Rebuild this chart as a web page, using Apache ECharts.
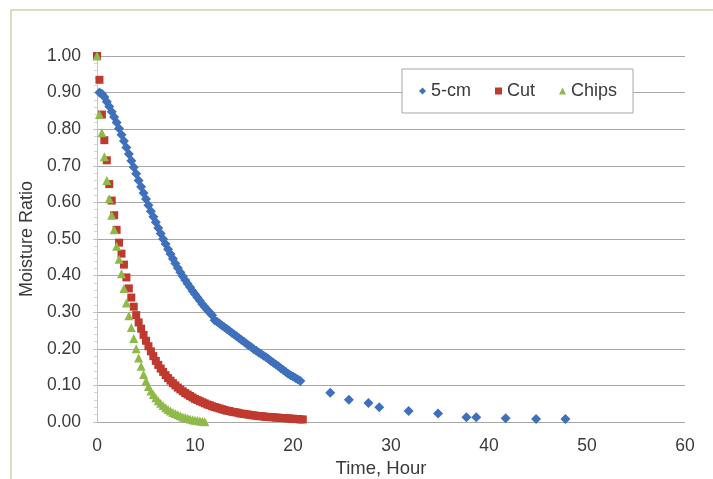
<!DOCTYPE html>
<html>
<head>
<meta charset="utf-8">
<script src="https://cdn.jsdelivr.net/npm/echarts@6/dist/echarts.min.js"></script>
<style>
html,body{margin:0;padding:0;background:#fff;}
#chart{width:713px;height:479px;}
</style>
</head>
<body>
<div id="chart"></div>
<script>
// Tick labels
var xTicks = [0, 10, 20, 30, 40, 50, 60];
var yTicks = [0.00, 0.10, 0.20, 0.30, 0.40, 0.50, 0.60, 0.70, 0.80, 0.90, 1.00];
var seriesNames = ['5-cm', 'Cut', 'Chips'];

// 5-cm: time (hour) and moisture ratio
var time5cm = [0.25,0.5,0.75,1,1.25,1.5,1.75,2,2.25,2.5,2.75,3,3.25,3.5,3.75,4,4.25,4.5,4.75,5,
  5.25,5.5,5.75,6,6.25,6.5,6.75,7,7.25,7.5,7.75,8,8.25,8.5,8.75,9,9.25,9.5,9.75,10,
  10.25,10.5,10.75,11,11.25,11.5,11.75,12,12.25,12.5,12.75,13,13.25,13.5,13.75,14,14.25,14.5,14.75,15,
  15.25,15.5,15.75,16,16.25,16.5,16.75,17,17.25,17.5,17.75,18,18.25,18.5,18.75,19,19.25,19.5,19.75,20,
  20.25,20.5,20.75,
  23.8,25.7,27.7,28.8,31.8,34.8,37.7,38.7,41.7,44.8,47.8];
var ratio5cm = [0.900,0.897,0.888,0.875,0.862,0.848,0.833,0.818,0.802,0.785,0.768,0.750,0.732,0.714,0.696,0.678,0.660,0.643,0.626,0.609,
  0.592,0.576,0.561,0.546,0.530,0.515,0.500,0.486,0.472,0.459,0.446,0.433,0.421,0.409,0.398,0.388,0.378,0.368,0.358,0.349,
  0.340,0.331,0.322,0.314,0.306,0.299,0.292,0.278,0.274,0.269,0.264,0.259,0.254,0.249,0.244,0.239,0.234,0.229,0.224,0.219,
  0.214,0.209,0.204,0.199,0.195,0.190,0.186,0.181,0.177,0.172,0.167,0.162,0.157,0.152,0.147,0.142,0.137,0.132,0.128,0.124,
  0.120,0.116,0.112,
  0.080,0.061,0.052,0.040,0.030,0.023,0.013,0.013,0.010,0.008,0.008];

// Cut
var timeCut = [0,0.25,0.5,0.75,1,1.25,1.5,1.75,2,2.25,2.5,2.75,3,3.25,3.5,3.75,4,4.25,4.5,4.75,5,
  5.25,5.5,5.75,6,6.25,6.5,6.75,7,7.25,7.5,7.75,8,8.25,8.5,8.75,9,9.25,9.5,9.75,10,
  10.25,10.5,10.75,11,11.25,11.5,11.75,12,12.25,12.5,12.75,13,13.25,13.5,13.75,14,14.25,14.5,14.75,15,
  15.25,15.5,15.75,16,16.25,16.5,16.75,17,17.25,17.5,17.75,18,18.25,18.5,18.75,19,19.25,19.5,19.75,20,
  20.25,20.5,20.75,21];
var ratioCut = [1.000,0.935,0.840,0.770,0.715,0.650,0.605,0.565,0.525,0.490,0.460,0.430,0.395,0.365,0.340,0.315,0.292,0.272,0.255,0.238,0.222,
  0.207,0.193,0.180,0.167,0.156,0.146,0.137,0.128,0.120,0.113,0.106,0.100,0.094,0.089,0.084,0.079,0.075,0.071,0.067,0.063,
  0.060,0.057,0.054,0.051,0.048,0.046,0.043,0.041,0.039,0.037,0.035,0.033,0.031,0.030,0.028,0.027,0.026,0.024,0.023,0.022,
  0.021,0.020,0.019,0.018,0.017,0.016,0.016,0.015,0.014,0.014,0.013,0.013,0.012,0.012,0.011,0.011,0.010,0.010,0.009,0.009,
  0.008,0.008,0.007,0.007];

// Chips
var timeChips = [0,0.25,0.5,0.75,1,1.25,1.5,1.75,2,2.25,2.5,2.75,3,3.25,3.5,3.75,4,4.25,4.5,4.75,5,
  5.25,5.5,5.75,6,6.25,6.5,6.75,7,7.25,7.5,7.75,8,8.25,8.5,8.75,9,9.25,9.5,9.75,10,
  10.25,10.5,10.75,11];
var ratioChips = [1.000,0.840,0.790,0.725,0.660,0.610,0.565,0.525,0.480,0.445,0.405,0.365,0.325,0.290,0.258,0.228,0.200,0.175,0.152,0.130,0.112,
  0.097,0.085,0.075,0.066,0.058,0.051,0.045,0.039,0.034,0.030,0.026,0.023,0.020,0.017,0.014,0.012,0.010,0.008,0.006,0.005,
  0.004,0.003,0.002,0.001];

function pairs(t, v) {
  var out = [];
  for (var i = 0; i < t.length; i++) out.push([t[i], v[i]]);
  return out;
}

var colors = ['#3f70bb', '#c0392f', '#8fba4a'];
var txt = '#3a3a3a';
var font = 'Liberation Sans, Arial, sans-serif';

var chart = echarts.init(document.getElementById('chart'), null, {renderer: 'canvas'});
chart.setOption({
  backgroundColor: '#fff',
  animation: false,
  textStyle: {fontFamily: font},
  graphic: [{
    type: 'rect',
    shape: {x: 11, y: 10, width: 720, height: 480},
    style: {fill: 'none', stroke: '#cdd3a8', lineWidth: 1.5},
    z: -1
  }],
  grid: {left: 97, right: 28, top: 56, bottom: 57, outerBoundsMode: 'none', containLabel: false},
  legend: {
    data: [
      {name: seriesNames[0], icon: 'diamond'},
      {name: seriesNames[1], icon: 'rect'},
      {name: seriesNames[2], icon: 'triangle'}
    ],
    left: 402, top: 69,
    padding: [13, 16, 13, 17],
    itemGap: 24,
    itemWidth: 7, itemHeight: 7,
    backgroundColor: '#fff',
    borderColor: '#a6a6a6', borderWidth: 1,
    textStyle: {color: txt, fontSize: 18, fontFamily: font}
  },
  xAxis: {
    type: 'value', min: xTicks[0], max: xTicks[xTicks.length - 1], interval: 10,
    name: 'Time, Hour', nameLocation: 'middle', nameGap: 35,
    nameTextStyle: {color: txt, fontSize: 18.5, fontFamily: font, padding: [0, 20, 0, 0]},
    axisLine: {show: false}, axisTick: {show: false}, splitLine: {show: false},
    axisLabel: {color: txt, fontSize: 17.5, margin: 15, fontFamily: font}
  },
  yAxis: {
    type: 'value', min: yTicks[0], max: yTicks[yTicks.length - 1], interval: 0.1,
    name: 'Moisture Ratio', nameLocation: 'middle', nameGap: 59,
    nameTextStyle: {color: txt, fontSize: 18, fontFamily: font},
    axisLine: {show: true, lineStyle: {color: '#c4c4c4'}},
    axisTick: {show: true, length: 4, lineStyle: {color: '#c4c4c4'}},
    minorTick: {show: true, splitNumber: 5, length: 3, lineStyle: {color: '#d4d4d4'}},
    splitLine: {show: true, lineStyle: {color: '#a8a8a8', width: 1}},
    axisLabel: {color: txt, fontSize: 17.5, margin: 16, fontFamily: font,
      formatter: function (v) { return v.toFixed(2); }}
  },
  series: [
    {name: seriesNames[0], type: 'scatter', symbol: 'diamond', symbolSize: 10,
     itemStyle: {color: colors[0], opacity: 1}, data: pairs(time5cm, ratio5cm)},
    {name: seriesNames[1], type: 'scatter', symbol: 'rect', symbolSize: 8,
     itemStyle: {color: colors[1], opacity: 1}, data: pairs(timeCut, ratioCut)},
    {name: seriesNames[2], type: 'scatter', symbol: 'triangle', symbolSize: 9,
     itemStyle: {color: colors[2], opacity: 1}, data: pairs(timeChips, ratioChips)}
  ]
});
</script>
</body>
</html>
